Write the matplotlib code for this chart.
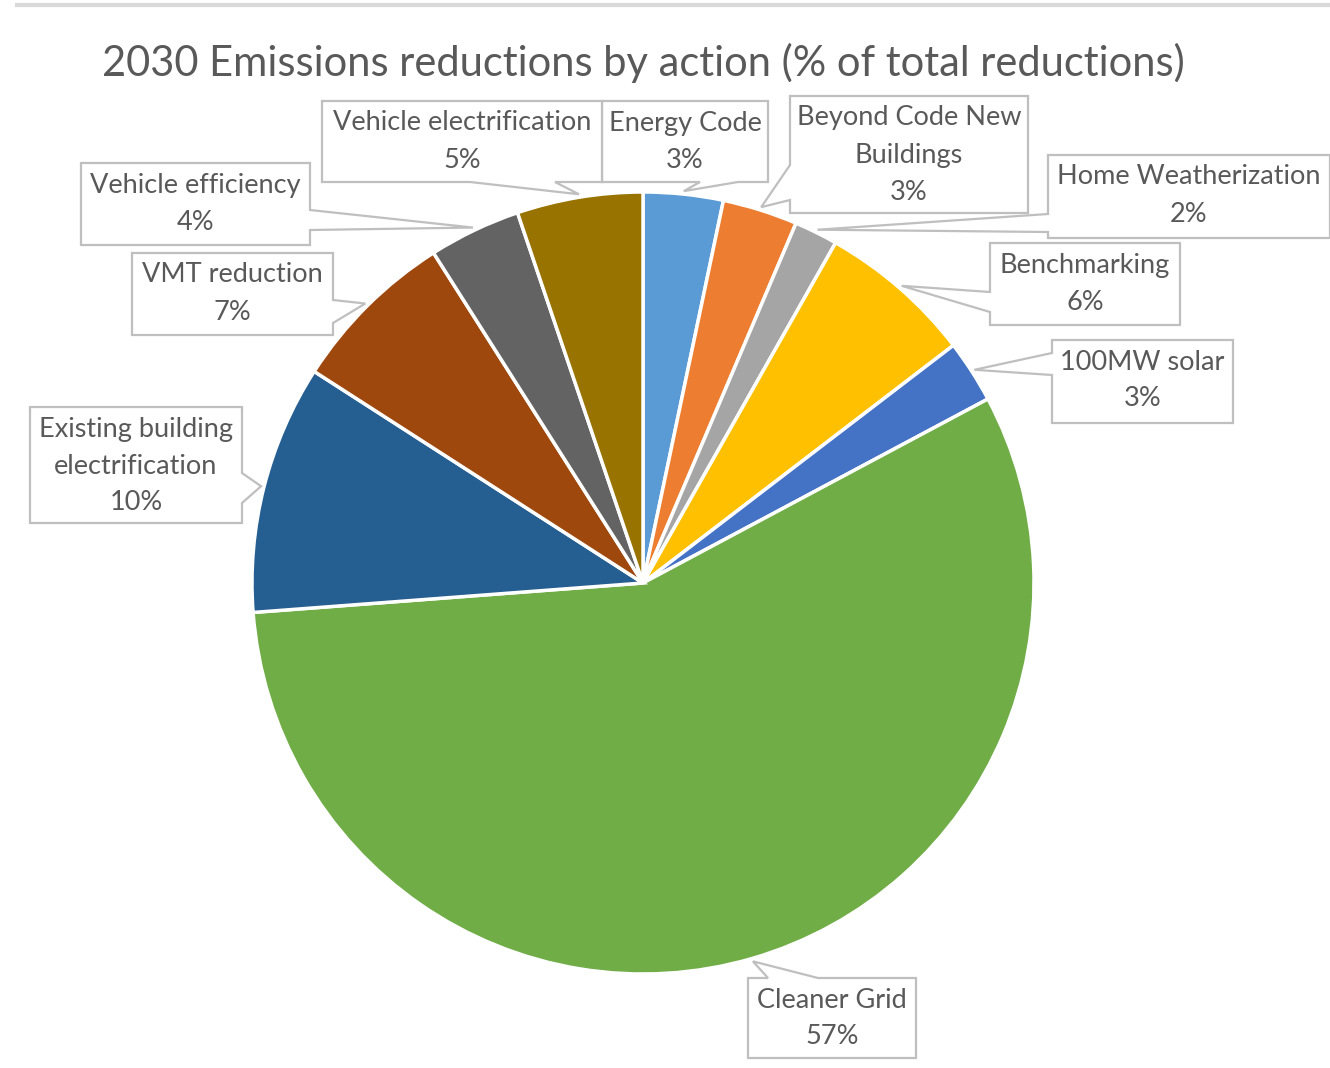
import matplotlib
matplotlib.use("Agg")
import matplotlib.pyplot as plt
from matplotlib.patches import Polygon
import numpy as np

# ---- data (clockwise from 12 o'clock) ----
categories = ["Energy Code", "Beyond Code New\nBuildings", "Home Weatherization",
              "Benchmarking", "100MW solar", "Cleaner Grid",
              "Existing building\nelectrification", "VMT reduction",
              "Vehicle efficiency", "Vehicle electrification"]
values = [3.3, 3.1, 1.8, 6.4, 2.6, 56.6, 10.3, 6.9, 3.8, 5.2]
colors = ["#5B9BD5", "#ED7D31", "#A5A5A5", "#FFC000", "#4472C4",
          "#70AD47", "#255E91", "#9E480E", "#636363", "#997300"]
title = "2030 Emissions reductions by action (% of total reductions)"

# ---- layout (image pixel coords, y downward) ----
W, H = 1330, 1068
CX, CY, R = 643, 583, 391
# box (x0, y0, x1, y1), side of pointer, pointer base span along that side
boxes = [
    ((602, 101, 768, 182), "bottom", (700, 738)),
    ((790, 96, 1028, 213), "left", (165, 200)),
    ((1048, 155, 1330, 238), "left", (214, 232)),
    ((990, 243, 1180, 325), "left", (292, 312)),
    ((1052, 340, 1233, 423), "left", (353, 375)),
    ((748, 978, 916, 1058), "top", (768, 818)),
    ((30, 407, 242, 523), "right", (473, 503)),
    ((132, 253, 333, 335), "right", (300, 323)),
    ((81, 163, 310, 245), "right", (210, 230)),
    ((322, 101, 602, 182), "bottom", (470, 555)),
]

TXT = "#595959"
EDGE = "#BFBFBF"
FONT = "Lato"

fig = plt.figure(figsize=(W / 100, H / 100), dpi=100)
ax = fig.add_axes([0, 0, 1, 1])

def Y(y):
    return H - y

wedges, _ = ax.pie(values, colors=colors, startangle=90, counterclock=False,
                   center=(CX, Y(CY)), radius=R,
                   wedgeprops=dict(edgecolor="white", linewidth=2.5),
                   frame=True)
ax.set_xlim(0, W)
ax.set_ylim(0, H)
ax.set_aspect("equal")
ax.axis("off")

# top rule line
ax.plot([15, W], [Y(5), Y(5)], color="#D9D9D9", lw=3, solid_capstyle="butt", zorder=1)

ax.text(643, Y(63), title, ha="center", va="center", fontsize=30,
        color=TXT, family=FONT)

total = sum(values)
cum = 0.0
for cat, v, (bx, side, base) in zip(categories, values, boxes):
    mid = (cum + v / 2) / total * 2 * np.pi
    cum += v
    tipx = CX + (R + 3) * np.sin(mid)
    tipy = CY - (R + 3) * np.cos(mid)
    x0, y0, x1, y1 = bx
    b1, b2 = base
    if side == "top":
        pts = [(x0, y0), (b1, y0), (tipx, tipy), (b2, y0), (x1, y0), (x1, y1), (x0, y1)]
    elif side == "right":
        pts = [(x0, y0), (x1, y0), (x1, b1), (tipx, tipy), (x1, b2), (x1, y1), (x0, y1)]
    elif side == "bottom":
        pts = [(x0, y0), (x1, y0), (x1, y1), (b2, y1), (tipx, tipy), (b1, y1), (x0, y1)]
    else:  # left
        pts = [(x0, y0), (x1, y0), (x1, y1), (x0, y1), (x0, b2), (tipx, tipy), (x0, b1)]
    poly = Polygon([(px, Y(py)) for px, py in pts], closed=True,
                   facecolor="white", edgecolor=EDGE, lw=1.6, zorder=5)
    ax.add_patch(poly)
    lines = cat.split("\n") + [f"{round(v)}%"]
    xc = (x0 + x1) / 2
    for i, ln in enumerate(lines):
        ax.text(xc, Y(y0 + 22 + 37 * i), ln, ha="center", va="center",
                fontsize=19.5, color=TXT, family=FONT, zorder=6)

fig.savefig("out.png", dpi=100, facecolor="white")
